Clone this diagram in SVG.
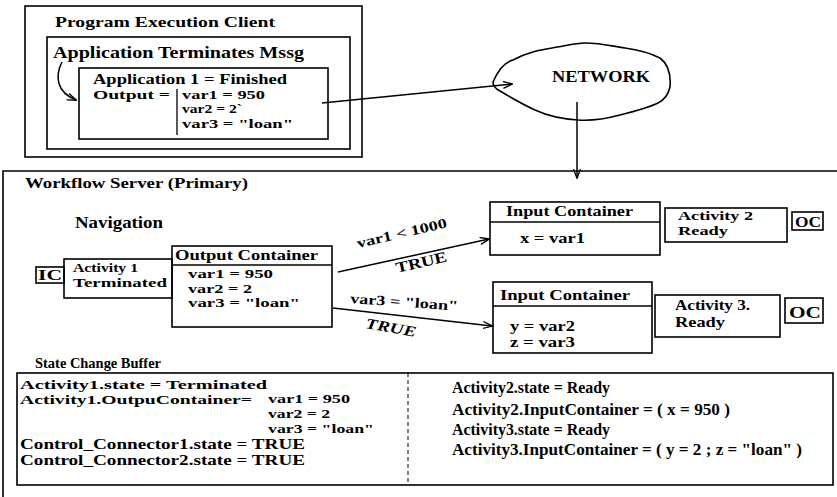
<svg xmlns="http://www.w3.org/2000/svg" width="837" height="497" viewBox="0 0 837 497">
<defs>
<style>
.b{fill:none;stroke:#000;stroke-width:1.6}
.t{font-family:"Liberation Serif","Times New Roman",serif;font-weight:bold;font-size:15px;fill:#000}
.s13{font-size:13px}
.s14{font-size:14px}
.s16{font-size:16px}
.c{fill:none;stroke:#000;stroke-width:1.5}
</style>
<marker id="ah" viewBox="0 0 10 8" refX="9" refY="4" markerWidth="10" markerHeight="8" markerUnits="userSpaceOnUse" orient="auto">
<path d="M0,0.5 L9.5,4 L0,7.5" fill="none" stroke="#000" stroke-width="1.3"/>
</marker>
</defs>
<rect width="837" height="497" fill="#fff"/>

<g id="client">
<rect class="b" x="25" y="6" width="337" height="151"/>
<text class="t" x="55" y="27" textLength="220" lengthAdjust="spacingAndGlyphs">Program Execution Client</text>
</g>
<g id="msg">
<rect class="b" x="47" y="37" width="303" height="112"/>
<text class="t" x="53" y="58" style="font-size:17px" textLength="251" lengthAdjust="spacingAndGlyphs">Application Terminates Mssg</text>
</g>
<g id="app1">
<rect class="b" x="79" y="68" width="249" height="71"/>
<text class="t" x="93" y="83.5" textLength="194" lengthAdjust="spacingAndGlyphs">Application 1 = Finished</text>
<text class="t s13" x="93" y="98.5" textLength="77" lengthAdjust="spacingAndGlyphs">Output =</text>
<line x1="177" y1="89" x2="177" y2="135" stroke="#000" stroke-width="1.3"/>
<text class="t s13" x="182" y="98.5" textLength="83" lengthAdjust="spacingAndGlyphs">var1 = 950</text>
<text class="t s13" x="182" y="113" textLength="60" lengthAdjust="spacingAndGlyphs">var2 = 2`</text>
<text class="t s13" x="182" y="127.5" textLength="111" lengthAdjust="spacingAndGlyphs">var3 = "loan"</text>
</g>
<g id="network">
<path class="b" d="M493,82 C498,70 505,62 513,60 C528,52 540,50 552,48 C565,46 575,43 585,43 C600,43 612,46 625,48 C640,50 650,53 660,58 C668,64 671,75 670,87 C668,96 664,100 658,103 C648,108 636,111 620,115 C605,119 592,121 578,120 C562,119 548,116 535,110 C522,104 510,97 500,91 C496,89 493,86 493,82 Z"/>
<text class="t" x="552" y="82" style="font-size:17px" textLength="98" lengthAdjust="spacingAndGlyphs">NETWORK</text>
</g>

<g id="server">
<path class="b" d="M3,497 L3,171 L837,171"/>
<text class="t" x="25" y="188" textLength="223" lengthAdjust="spacingAndGlyphs">Workflow Server (Primary)</text>
<text class="t s16" x="75" y="228" textLength="88" lengthAdjust="spacingAndGlyphs">Navigation</text>
</g>
<g id="ic1">
<rect class="b" x="36" y="267" width="28" height="16"/>
<text class="t s14" x="38" y="280" textLength="24" lengthAdjust="spacingAndGlyphs">IC</text>
</g>
<g id="activity1">
<rect class="b" x="64" y="259" width="108" height="39"/>
<text class="t s13" x="73" y="272" textLength="65" lengthAdjust="spacingAndGlyphs">Activity 1</text>
<text class="t s13" x="73" y="286.5" textLength="94" lengthAdjust="spacingAndGlyphs">Terminated</text>
</g>
<g id="outputContainer">
<rect class="b" x="172" y="246" width="160" height="81"/>
<line class="b" x1="172" y1="265" x2="332" y2="265"/>
<text class="t s14" x="175" y="260" textLength="143" lengthAdjust="spacingAndGlyphs">Output Container</text>
<text class="t s13" x="188" y="278" textLength="85" lengthAdjust="spacingAndGlyphs">var1 = 950</text>
<text class="t s13" x="188" y="292.5" textLength="64" lengthAdjust="spacingAndGlyphs">var2 = 2</text>
<text class="t s13" x="188" y="307" textLength="112" lengthAdjust="spacingAndGlyphs">var3 = "loan"</text>
</g>
<g id="inputContainer2">
<rect class="b" x="490" y="202" width="170" height="53"/>
<line class="b" x1="490" y1="222" x2="660" y2="222"/>
<text class="t s14" x="506" y="216" textLength="127" lengthAdjust="spacingAndGlyphs">Input Container</text>
<text class="t s14" x="520" y="243" textLength="65" lengthAdjust="spacingAndGlyphs">x = var1</text>
</g>
<g id="activity2">
<rect class="b" x="665" y="208" width="122" height="34"/>
<text class="t s13" x="678" y="220" textLength="75" lengthAdjust="spacingAndGlyphs">Activity 2</text>
<text class="t s13" x="678" y="235" textLength="50" lengthAdjust="spacingAndGlyphs">Ready</text>
</g>
<g id="oc2">
<rect class="b" x="792" y="212" width="31" height="18"/>
<text class="t s14" x="795" y="227" textLength="26" lengthAdjust="spacingAndGlyphs">OC</text>
</g>
<g id="inputContainer3">
<rect class="b" x="493" y="282" width="159" height="71"/>
<line class="b" x1="493" y1="306" x2="652" y2="306"/>
<text class="t" x="500" y="300" textLength="130" lengthAdjust="spacingAndGlyphs">Input Container</text>
<text class="t s14" x="510" y="331" textLength="65" lengthAdjust="spacingAndGlyphs">y = var2</text>
<text class="t s14" x="510" y="347" textLength="65" lengthAdjust="spacingAndGlyphs">z = var3</text>
</g>
<g id="activity3">
<rect class="b" x="655" y="295" width="125" height="42"/>
<text class="t s14" x="675" y="310" textLength="75" lengthAdjust="spacingAndGlyphs">Activity 3.</text>
<text class="t s14" x="675" y="327" textLength="50" lengthAdjust="spacingAndGlyphs">Ready</text>
</g>
<g id="oc3">
<rect class="b" x="785" y="298" width="38" height="25"/>
<text class="t s16" x="789" y="318" textLength="32" lengthAdjust="spacingAndGlyphs">OC</text>
</g>

<g id="buffer">
<text class="t" x="35" y="368" textLength="126" lengthAdjust="spacingAndGlyphs">State Change Buffer</text>
<rect class="b" x="17" y="373" width="816" height="112"/>
<line x1="408" y1="373" x2="408" y2="485" stroke="#000" stroke-width="1" stroke-dasharray="4,3"/>
<text class="t" x="20" y="389" style="font-size:13.5px" textLength="247" lengthAdjust="spacingAndGlyphs">Activity1.state = Terminated</text>
<text class="t" x="20" y="404" style="font-size:13.5px" textLength="232" lengthAdjust="spacingAndGlyphs">Activity1.OutpuContainer=</text>
<text class="t" x="268" y="403" style="font-size:13.5px" textLength="82" lengthAdjust="spacingAndGlyphs">var1 = 950</text>
<text class="t" x="268" y="418" style="font-size:13.5px" textLength="62" lengthAdjust="spacingAndGlyphs">var2 = 2</text>
<text class="t" x="268" y="432.5" style="font-size:13.5px" textLength="106" lengthAdjust="spacingAndGlyphs">var3 = "loan"</text>
<text class="t s14" x="20" y="449" textLength="285" lengthAdjust="spacingAndGlyphs">Control_Connector1.state = TRUE</text>
<text class="t s14" x="20" y="465" textLength="285" lengthAdjust="spacingAndGlyphs">Control_Connector2.state = TRUE</text>
<text class="t s16" x="452" y="393" textLength="158" lengthAdjust="spacingAndGlyphs">Activity2.state = Ready</text>
<text class="t s16" x="452" y="415" textLength="278" lengthAdjust="spacingAndGlyphs">Activity2.InputContainer =  ( x = 950 )</text>
<text class="t s16" x="452" y="435" textLength="158" lengthAdjust="spacingAndGlyphs">Activity3.state = Ready</text>
<text class="t s16" x="452" y="455" textLength="350" lengthAdjust="spacingAndGlyphs">Activity3.InputContainer = ( y = 2 ; z = "loan" )</text>
</g>

<g id="connectors">
<path class="c" d="M62,62 C55,76 56,92 76,100" marker-end="url(#ah)"/>
<line class="c" x1="322" y1="103" x2="512" y2="84" marker-end="url(#ah)"/>
<line class="c" x1="577" y1="102" x2="577" y2="178" marker-end="url(#ah)"/>
<line class="c" x1="338" y1="272" x2="489" y2="239" marker-end="url(#ah)"/>
<line class="c" x1="333" y1="308" x2="492" y2="326" marker-end="url(#ah)"/>
<text class="t s14" transform="translate(358,248) rotate(-13)" textLength="92" lengthAdjust="spacingAndGlyphs">var1 &lt; 1000</text>
<text class="t" transform="translate(397,273) rotate(-13)" textLength="52" lengthAdjust="spacingAndGlyphs">TRUE</text>
<text class="t s14" transform="translate(350,303) rotate(4)" textLength="108" lengthAdjust="spacingAndGlyphs">var3 = "loan"</text>
<text class="t" transform="translate(365,328) rotate(10)" style="font-style:italic" textLength="51" lengthAdjust="spacingAndGlyphs">TRUE</text>
</g>
</svg>
